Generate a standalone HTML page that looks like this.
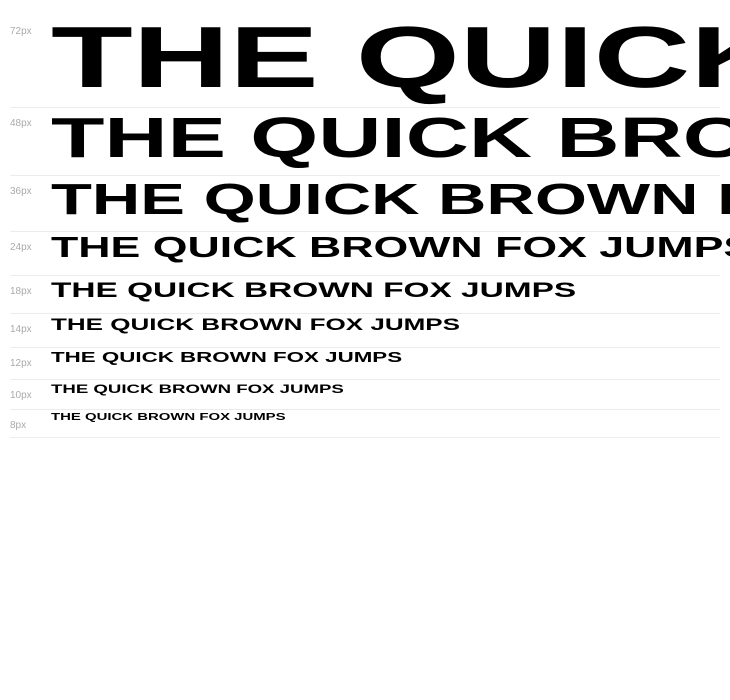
<!DOCTYPE html>
<html><head><meta charset="utf-8"><style>
html,body{margin:0;padding:0;background:#fff;width:730px;height:700px;overflow:hidden;position:relative}
.l{position:absolute;left:10px;font:10px "Liberation Sans",sans-serif;color:#aaa;line-height:10px}
.h{position:absolute;left:10px;width:710px;height:1px;background:#ececec}
.t{position:absolute;left:51px;font-family:"Liberation Sans",sans-serif;font-weight:bold;line-height:1;white-space:nowrap;color:#000;transform:scaleX(1.54);transform-origin:0 0}
</style></head><body>
<div class="l" style="top:27px">72px</div>
<div class="l" style="top:119px">48px</div>
<div class="l" style="top:187px">36px</div>
<div class="l" style="top:243px">24px</div>
<div class="l" style="top:287px">18px</div>
<div class="l" style="top:325px">14px</div>
<div class="l" style="top:359px">12px</div>
<div class="l" style="top:391px">10px</div>
<div class="l" style="top:421px">8px</div>
<div class="h" style="top:107px"></div>
<div class="h" style="top:175px"></div>
<div class="h" style="top:231px"></div>
<div class="h" style="top:275px"></div>
<div class="h" style="top:313px"></div>
<div class="h" style="top:347px"></div>
<div class="h" style="top:379px"></div>
<div class="h" style="top:409px"></div>
<div class="h" style="top:437px"></div>
<div class="t" style="top:15.2px;font-size:86.9px">THE QUICK BROWN FOX JUMPS</div>
<div class="t" style="top:110.5px;font-size:56.8px">THE QUICK BROWN FOX JUMPS</div>
<div class="t" style="top:178.5px;font-size:43.5px">THE QUICK BROWN FOX JUMPS</div>
<div class="t" style="top:234.2px;font-size:29px">THE QUICK BROWN FOX JUMPS</div>
<div class="t" style="top:279.3px;font-size:21.7px">THE QUICK BROWN FOX JUMPS</div>
<div class="t" style="top:317.2px;font-size:16.9px">THE QUICK BROWN FOX JUMPS</div>
<div class="t" style="top:350.5px;font-size:14.5px">THE QUICK BROWN FOX JUMPS</div>
<div class="t" style="top:383px;font-size:12.1px">THE QUICK BROWN FOX JUMPS</div>
<div class="t" style="top:412.5px;font-size:9.7px">THE QUICK BROWN FOX JUMPS</div>
</body></html>
